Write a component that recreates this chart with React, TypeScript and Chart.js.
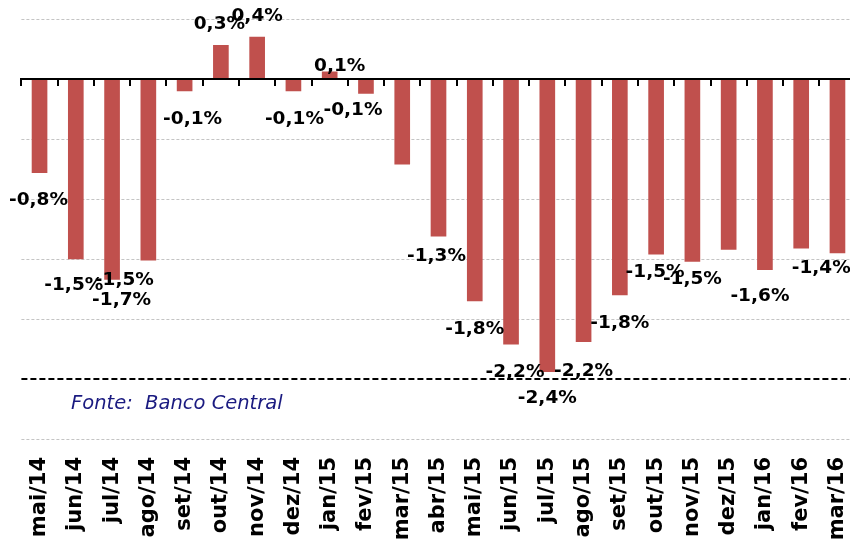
import React, { useEffect, useRef } from "react";
import { Chart, registerables } from "chart.js";

Chart.register(...registerables);

// ---------- data ----------
const categories = [
  "mai/14", "jun/14", "jul/14", "ago/14", "set/14", "out/14", "nov/14", "dez/14",
  "jan/15", "fev/15", "mar/15", "abr/15", "mai/15", "jun/15", "jul/15", "ago/15",
  "set/15", "out/15", "nov/15", "dez/15", "jan/16", "fev/16", "mar/16",
];

const values = [
  -0.78, -1.5, -1.67, -1.51, -0.1, 0.28, 0.35, -0.1,
  0.06, -0.12, -0.71, -1.31, -1.85, -2.21, -2.44, -2.19,
  -1.8, -1.46, -1.52, -1.42, -1.59, -1.41, -1.45,
];

const valueLabels: (string | null)[] = [
  "-0,8%", "-1,5%", "-1,7%", "-1,5%", "-0,1%", "0,3%", "0,4%", "-0,1%",
  "0,1%", "-0,1%", null, "-1,3%", "-1,8%", "-2,2%", "-2,4%", "-2,2%",
  "-1,8%", "-1,5%", "-1,5%", null, "-1,6%", "-1,4%", null,
];

const sourceText = "Fonte:  Banco Central";
const limitValue = -2.5;
const yMin = -3;
const yMax = 0.658;
const gridStep = 0.5;

// ---------- layout (label nudges relative to bar end, px) ----------
const labelOffsets: [number, number][] = [
  [-1, 26], [-2, 24], [9.5, 19], [-24, 18], [8, 26], [-1.5, -23], [0, -23], [1, 26],
  [10, -8], [-13, 15], [0, 0], [-2, 18], [0, 26], [4, 26], [0, 24], [0, 27],
  [0, 26], [-1, 16], [0, 16], [0, 0], [-5, 24], [20, 18], [0, 0],
];

const BAR_COLOR = "#C0504D";
const LABEL_FONT_SIZE = 18.5;

const overlayPlugin = {
  id: "overlay",
  beforeDatasetsDraw(chart: any) {
    const { ctx, chartArea } = chart;
    const y = chart.scales.y;
    ctx.save();
    ctx.strokeStyle = "#c4c4c4";
    ctx.lineWidth = 1;
    ctx.setLineDash([3, 2]);
    const start = Math.ceil(y.min / gridStep) * gridStep;
    for (let v = start; v <= y.max + 1e-9; v += gridStep) {
      const vv = Math.round(v * 1000) / 1000;
      if (Math.abs(vv) < 1e-9 || Math.abs(vv - limitValue) < 1e-9) continue;
      const py = Math.round(y.getPixelForValue(vv)) + 0.5;
      ctx.beginPath();
      ctx.moveTo(chartArea.left, py);
      ctx.lineTo(chartArea.right, py);
      ctx.stroke();
    }
    ctx.restore();
  },
  afterDatasetsDraw(chart: any) {
    const { ctx, chartArea } = chart;
    const y = chart.scales.y;
    const x = chart.scales.x;
    ctx.save();

    // zero axis
    const zy = Math.round(y.getPixelForValue(0));
    ctx.strokeStyle = "#000";
    ctx.lineWidth = 2;
    ctx.setLineDash([]);
    ctx.beginPath();
    ctx.moveTo(chartArea.left, zy);
    ctx.lineTo(chartArea.right, zy);
    ctx.stroke();

    // tick marks at category boundaries
    const catW = x.getPixelForValue(1) - x.getPixelForValue(0);
    const first = x.getPixelForValue(0) - catW / 2;
    for (let i = 0; i <= categories.length; i++) {
      const px = Math.round(first + i * catW);
      ctx.beginPath();
      ctx.moveTo(px, zy - 1);
      ctx.lineTo(px, zy + 7);
      ctx.stroke();
    }

    // limit dashed line
    const ly = Math.round(y.getPixelForValue(limitValue));
    ctx.setLineDash([6, 3]);
    ctx.beginPath();
    ctx.moveTo(chartArea.left, ly);
    ctx.lineTo(chartArea.right, ly);
    ctx.stroke();
    ctx.setLineDash([]);

    // value labels
    const meta = chart.getDatasetMeta(0);
    ctx.fillStyle = "#000";
    ctx.font = `bold ${LABEL_FONT_SIZE}px 'DejaVu Sans'`;
    ctx.textAlign = "center";
    ctx.textBaseline = "alphabetic";
    meta.data.forEach((el: any, i: number) => {
      const txt = valueLabels[i];
      if (!txt) return;
      const [dx, dy] = labelOffsets[i];
      const cx = el.x + dx;
      const cy = el.y + dy;
      ctx.fillText(txt, cx, cy + 0.364 * LABEL_FONT_SIZE);
    });

    // source
    ctx.fillStyle = "#1a1a80";
    ctx.font = "oblique 19.5px 'DejaVu Sans'";
    ctx.textAlign = "left";
    ctx.fillText(sourceText, 71, 409);

    ctx.restore();
  },
};

export default function App() {
  const canvasRef = useRef<HTMLCanvasElement | null>(null);

  useEffect(() => {
    document.body.style.overflow = "hidden";
    if (!canvasRef.current) return;
    const chart = new Chart(canvasRef.current, {
      type: "bar",
      data: {
        labels: categories,
        datasets: [
          {
            data: values,
            backgroundColor: BAR_COLOR,
            borderWidth: 0,
            barThickness: 15,
          },
        ],
      },
      options: {
        responsive: false,
        animation: false,
        layout: { padding: { left: 21.4, right: 4.4, top: 0, bottom: 0 } },
        plugins: {
          legend: { display: false },
          tooltip: { enabled: false },
          title: { display: false },
        },
        scales: {
          x: {
            type: "category",
            offset: true,
            grid: { display: false, drawTicks: false },
            border: { display: false },
            ticks: {
              autoSkip: false,
              minRotation: 90,
              maxRotation: 90,
              padding: 18,
              color: "#000",
              font: { family: "'DejaVu Sans'", size: 21, weight: "bold" },
            },
            afterFit: (scale: any) => {
              scale.height = 102;
              scale.paddingLeft = 0;
              scale.paddingRight = 0;
            },
          },
          y: {
            display: false,
            min: yMin,
            max: yMax,
          },
        },
      },
      plugins: [overlayPlugin],
    });
    return () => chart.destroy();
  }, []);

  return (
    <div
      style={{
        position: "absolute",
        left: 0,
        top: 0,
        width: 850,
        height: 541,
        overflow: "hidden",
        background: "#fff",
      }}
    >
      <canvas
        ref={canvasRef}
        width={860}
        height={541}
        style={{ display: "block", width: 860, height: 541 }}
      />
    </div>
  );
}
